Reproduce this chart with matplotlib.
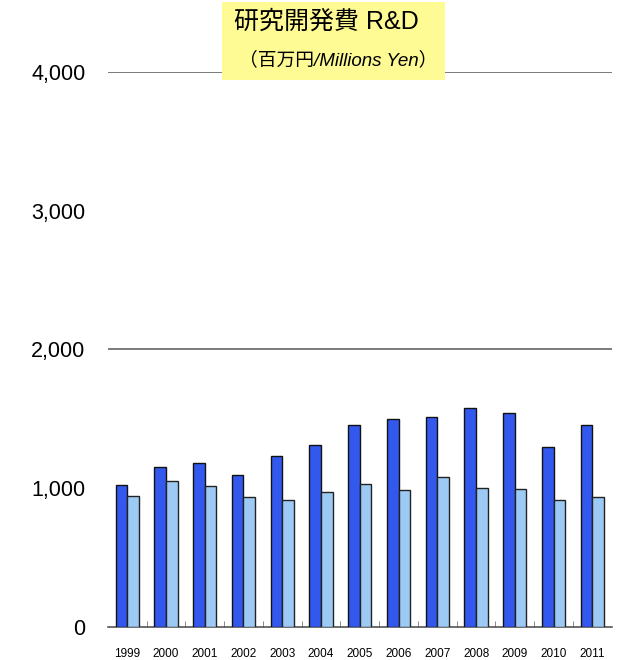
import numpy as np
import matplotlib.pyplot as plt

plt.rcParams['font.family'] = ['Liberation Sans', 'Noto Sans CJK JP', 'DejaVu Sans']

years = ['1999', '2000', '2001', '2002', '2003', '2004', '2005',
         '2006', '2007', '2008', '2009', '2010', '2011']
# 濃い青
rd_a = [1023, 1155, 1184, 1098, 1232, 1314, 1456, 1499, 1516, 1576, 1542, 1300, 1456]
# 薄い青
rd_b = [944, 1052, 1016, 939, 917, 973, 1028, 987, 1083, 1000, 995, 915, 939]

fig = plt.figure(figsize=(6.23, 6.6), dpi=100)
ax = fig.add_axes([0.173, 0.05, 0.809, 0.841])

x = np.arange(len(years))
w = 0.3
ax.bar(x - w/2, rd_a, w, color='#3358ee', edgecolor='#111111', linewidth=1.0, zorder=3)
ax.bar(x + w/2, rd_b, w, color='#9ccaf4', edgecolor='#222222', linewidth=1.0, zorder=3)

for v in [2000, 4000]:
    ax.axhline(v, color='#7a7a7a', linewidth=1.4, zorder=1)

ax.set_xlim(-0.5, len(years) - 0.5)
ax.set_ylim(0, 4000)
ax.set_yticks([0, 1000, 2000, 3000, 4000])
ax.set_yticklabels(['0', '1,000', '2,000', '3,000', '4,000'], fontsize=15.5)
ax.tick_params(axis='y', length=0, pad=16)
ax.set_xticks(x)
ax.set_xticklabels(years, fontsize=8.5)
ax.tick_params(axis='x', length=0, pad=15)
ax.set_xticks(x[:-1] + 0.5, minor=True)
ax.tick_params(axis='x', which='minor', direction='in', length=4, color='#777777')

for s in ['top', 'right', 'left']:
    ax.spines[s].set_visible(False)
ax.spines['bottom'].set_color('#555555')
ax.spines['bottom'].set_linewidth(1.2)

fig.patches.append(plt.Rectangle((222/623, 1 - 80/660), 223/623, 78/660,
                                 transform=fig.transFigure, facecolor='#fffb94',
                                 edgecolor='none', zorder=5))
fig.text(326/623, 1 - 22/660, '研究開発費 R&D', fontsize=18, ha='center', va='center', zorder=6)
fig.text(338/623, 1 - 60/660, '（百万円/Millions Yen）', fontsize=13.5, style='italic',
         ha='center', va='center', zorder=6)

fig.savefig('out.png', dpi=100)
